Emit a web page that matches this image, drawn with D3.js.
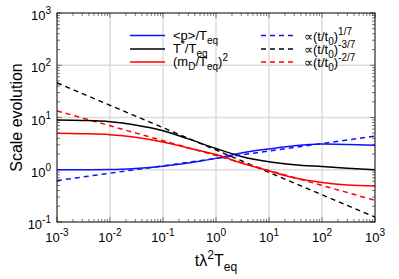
<!DOCTYPE html>
<html>
<head>
<meta charset="utf-8">
<script src="https://cdn.jsdelivr.net/npm/d3@7"></script>
<style>
body { margin: 0; background: #fff; }
text { font-family: "Liberation Sans", Arial, sans-serif; fill: #000; }
</style>
</head>
<body>
<script>
// time values (t lambda^2 T_eq)
var times = [1e-3, 3e-3, 1e-2, 3e-2, 1e-1, 3e-1, 1, 3, 10, 30, 100, 300, 1000];
var pMean = [1.0, 1.0, 1.01, 1.06, 1.17, 1.35, 1.65, 2.1, 2.5, 2.88, 3.1, 3.05, 2.95];
var tStar = [9.0, 8.8, 8.3, 7.2, 5.6, 3.9, 2.55, 1.8, 1.42, 1.25, 1.15, 1.07, 1.0];
var mDebye = [5.0, 4.9, 4.7, 4.2, 3.4, 2.6, 1.95, 1.35, 0.95, 0.7, 0.57, 0.51, 0.49];
// power-law guides, end points
var guideTimes = [1e-3, 1e3];
var guideP = [0.62, 4.4];
var guideT = [46, 0.124];
var guideM = [13.4, 0.26];
var decades = [-3, -2, -1, 0, 1, 2, 3];
var yDecades = [-1, 0, 1, 2, 3];

var margin = {top: 13, right: 24, bottom: 57, left: 57},
	width = 399 - margin.left - margin.right,
	height = 279 - margin.top - margin.bottom;

var svg = d3.select("body").append("svg")
	.attr("width", 399)
	.attr("height", 279);

var g = svg.append("g")
	.attr("transform", "translate(" + margin.left + "," + margin.top + ")");

var x = d3.scaleLog().domain([1e-3, 1e3]).range([0, width]);
var y = d3.scaleLog().domain([0.1, 1000]).range([height, 0]);

// grid
g.selectAll(".xgrid").data(decades.slice(1, -1)).enter().append("line")
	.attr("x1", function(d) { return x(Math.pow(10, d)); })
	.attr("x2", function(d) { return x(Math.pow(10, d)); })
	.attr("y1", 0).attr("y2", height)
	.style("stroke", "#dcdcdc").style("stroke-width", 1.5);
g.selectAll(".ygrid").data(yDecades.slice(1, -1)).enter().append("line")
	.attr("y1", function(d) { return y(Math.pow(10, d)); })
	.attr("y2", function(d) { return y(Math.pow(10, d)); })
	.attr("x1", 0).attr("x2", width)
	.style("stroke", "#dcdcdc").style("stroke-width", 1.5);

// ticks, on all four sides
var xMinor = [], yMinor = [];
decades.slice(0, -1).forEach(function(d) {
	for (var k = 2; k < 10; k++) xMinor.push(k * Math.pow(10, d));
});
yDecades.slice(0, -1).forEach(function(d) {
	for (var k = 2; k < 10; k++) yMinor.push(k * Math.pow(10, d));
});
function xticks(vals, len) {
	vals.forEach(function(v) {
		g.append("line").attr("x1", x(v)).attr("x2", x(v)).attr("y1", height).attr("y2", height - len)
			.style("stroke", "#555").style("stroke-width", 0.8);
		g.append("line").attr("x1", x(v)).attr("x2", x(v)).attr("y1", 0).attr("y2", len)
			.style("stroke", "#555").style("stroke-width", 0.8);
	});
}
function yticks(vals, len) {
	vals.forEach(function(v) {
		g.append("line").attr("y1", y(v)).attr("y2", y(v)).attr("x1", 0).attr("x2", len)
			.style("stroke", "#555").style("stroke-width", 0.8);
		g.append("line").attr("y1", y(v)).attr("y2", y(v)).attr("x1", width).attr("x2", width - len)
			.style("stroke", "#555").style("stroke-width", 0.8);
	});
}
xticks(xMinor, 3);
yticks(yMinor, 3);
xticks(decades.map(function(d) { return Math.pow(10, d); }), 5);
yticks(yDecades.map(function(d) { return Math.pow(10, d); }), 5);

// curves
var line = d3.line()
	.x(function(d) { return x(d[0]); })
	.y(function(d) { return y(d[1]); })
	.curve(d3.curveMonotoneX);

function zip(xs, ys) { return xs.map(function(v, i) { return [v, ys[i]]; }); }

var clip = svg.append("clipPath").attr("id", "clip").append("rect")
	.attr("width", width).attr("height", height);

var series = [
	{vals: guideP, times: guideTimes, color: "#1010ff", dash: "5,4"},
	{vals: guideT, times: guideTimes, color: "#000", dash: "5,4"},
	{vals: guideM, times: guideTimes, color: "#ff0000", dash: "5,4"},
	{vals: pMean, times: times, color: "#1010ff", dash: null},
	{vals: tStar, times: times, color: "#000", dash: null},
	{vals: mDebye, times: times, color: "#ff0000", dash: null}
];
series.forEach(function(s) {
	g.append("path")
		.datum(zip(s.times, s.vals))
		.attr("d", line)
		.attr("clip-path", "url(#clip)")
		.style("fill", "none")
		.style("stroke", s.color)
		.style("stroke-width", 1.5)
		.style("stroke-dasharray", s.dash);
});

// frame
g.append("rect").attr("width", width).attr("height", height)
	.style("fill", "none").style("stroke", "#000").style("stroke-width", 1);

// tick labels
decades.forEach(function(d) {
	var t = g.append("text")
		.attr("x", x(Math.pow(10, d)))
		.attr("y", height + 20)
		.style("text-anchor", "middle")
		.style("font-size", "13px");
	t.append("tspan").text("10");
	t.append("tspan").attr("dy", -6).style("font-size", "10px").text(d);
});
yDecades.forEach(function(d) {
	var t = g.append("text")
		.attr("x", -6)
		.attr("y", y(Math.pow(10, d)) + 7)
		.style("text-anchor", "end")
		.style("font-size", "13px");
	t.append("tspan").text("10");
	t.append("tspan").attr("dy", -6).style("font-size", "10px").text(d);
});

// axis titles
svg.append("text")
	.attr("transform", "translate(22," + (margin.top + height / 2) + ") rotate(-90)")
	.style("text-anchor", "middle")
	.style("font-size", "16px")
	.text("Scale evolution");

var xt = svg.append("text")
	.attr("x", margin.left + x(1))
	.attr("y", 266)
	.style("text-anchor", "middle")
	.style("font-size", "16px");
xt.append("tspan").text("t\u03bb");
xt.append("tspan").attr("dy", -7).style("font-size", "12px").text("2");
xt.append("tspan").attr("dy", 7).text("T");
xt.append("tspan").attr("dy", 5).style("font-size", "12px").text("eq");

// legend
var legendY = [35.5, 49, 62];
var solidLabels = [
	[["<p>/T", 0], ["eq", 4]],
	[["T", 0], ["*", -5], ["/T", 5], ["eq", 4]],
	[["(m", 0], ["D", 4], ["/T", -4], ["eq", 4], [")", -4], ["2", -5]]
];
var dashLabels = [
	[["\u221d(t/t", 0], ["0", 4], [")", -4], ["1/7", -6]],
	[["\u221d(t/t", 0], ["0", 4], [")", -4], ["-3/7", -6]],
	[["\u221d(t/t", 0], ["0", 4], [")", -4], ["-2/7", -6]]
];
var colors = ["#1010ff", "#000", "#ff0000"];

function label(x0, y0, parts) {
	var t = svg.append("text").attr("x", x0).attr("y", y0).style("font-size", "13px");
	parts.forEach(function(p, i) {
		var small = (i > 0 && p[1] !== 0 && !(p[0] === "/T" || p[0] === ")")) ;
		t.append("tspan").attr("dy", p[1]).style("font-size", small ? "10px" : "13px").text(p[0]);
	});
}
legendY.forEach(function(ly, i) {
	svg.append("line").attr("x1", 130).attr("x2", 165).attr("y1", ly).attr("y2", ly)
		.style("stroke", colors[i]).style("stroke-width", 1.5);
	svg.append("line").attr("x1", 261).attr("x2", 297).attr("y1", ly).attr("y2", ly)
		.style("stroke", colors[i]).style("stroke-width", 1.5).style("stroke-dasharray", "5,4");
	label(173, ly + 4, solidLabels[i]);
	label(304, ly + 5, dashLabels[i]);
});
</script>
</body>
</html>
